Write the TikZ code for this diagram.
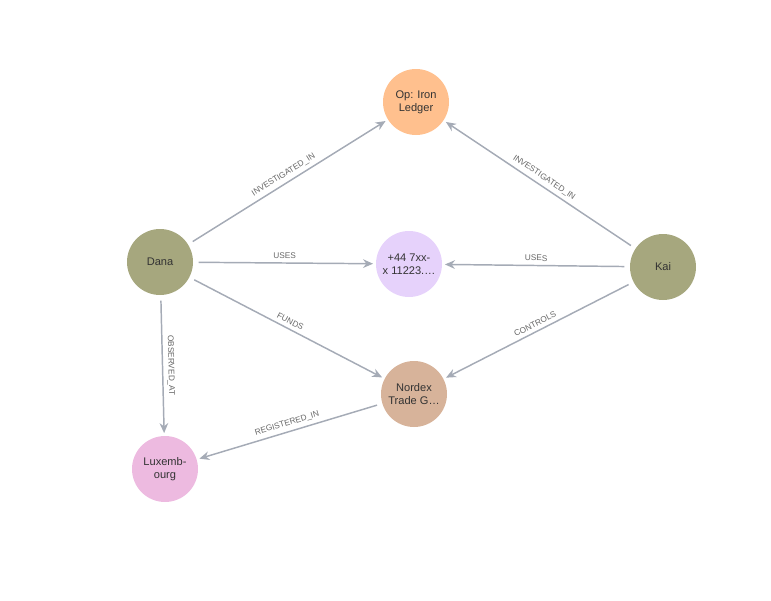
\documentclass[tikz,border=0pt]{standalone}
\usepackage{fontspec}
\setmainfont{Liberation Sans}
\usepackage{xcolor}
\usepackage{tikz}
\usetikzlibrary{arrows.meta}

\definecolor{casecol}{HTML}{FFC08E}
\definecolor{phonecol}{HTML}{E6D2FB}
\definecolor{firmcol}{HTML}{D7B39A}
\definecolor{placecol}{HTML}{EDBAE0}
\definecolor{personcol}{HTML}{A6A77E}
\definecolor{relcol}{HTML}{A5ABB6}

\begin{document}
\begin{tikzpicture}[x=0.75pt, y=-0.75pt]
    \tikzset{entity/.style={circle, minimum size=49.5pt, inner sep=0pt, align=center, text=black!80, font=\fontsize{8.3}{9.5}\selectfont}}
    \tikzset{rel/.style={draw=relcol, line width=1.1pt, -{Stealth[length=7.5pt, width=6.5pt]}, shorten <=4pt, shorten >=2pt}}
    \tikzset{rellabel/.style={sloped, above, inner sep=2.8pt, text=black!60, font=\fontsize{6.2}{7}\selectfont}}

    \useasboundingbox (0,0) rectangle (771,600);

    \node[entity, fill=casecol] (op) at (416,102) {Op: Iron\\Ledger};
    \node[entity, fill=phonecol] (phone) at (409,264) {+44 7xx-\\x 11223.\dots};
    \node[entity, fill=firmcol] (nordex) at (414,394) {Nordex\\Trade G\dots};
    \node[entity, fill=placecol] (lux) at (165,469) {Luxemb-\\ourg};
    \node[entity, fill=personcol] (dana) at (160,262) {Dana};
    \node[entity, fill=personcol] (kai) at (663,267) {Kai};

    \draw[rel] (dana) -- node[rellabel] {INVESTIGATED\_IN} (op);
    \draw[rel] (kai) -- node[rellabel] {INVESTIGATED\_IN} (op);
    \draw[rel] (dana) -- node[rellabel] {USES} (phone);
    \draw[rel] (kai) -- node[rellabel] {USES} (phone);
    \draw[rel] (dana) -- node[rellabel] {FUNDS} (nordex);
    \draw[rel] (kai) -- node[rellabel] {CONTROLS} (nordex);
    \draw[rel] (dana) -- node[rellabel] {OBSERVED\_AT} (lux);
    \draw[rel] (nordex) -- node[rellabel] {REGISTERED\_IN} (lux);
\end{tikzpicture}
\end{document}
